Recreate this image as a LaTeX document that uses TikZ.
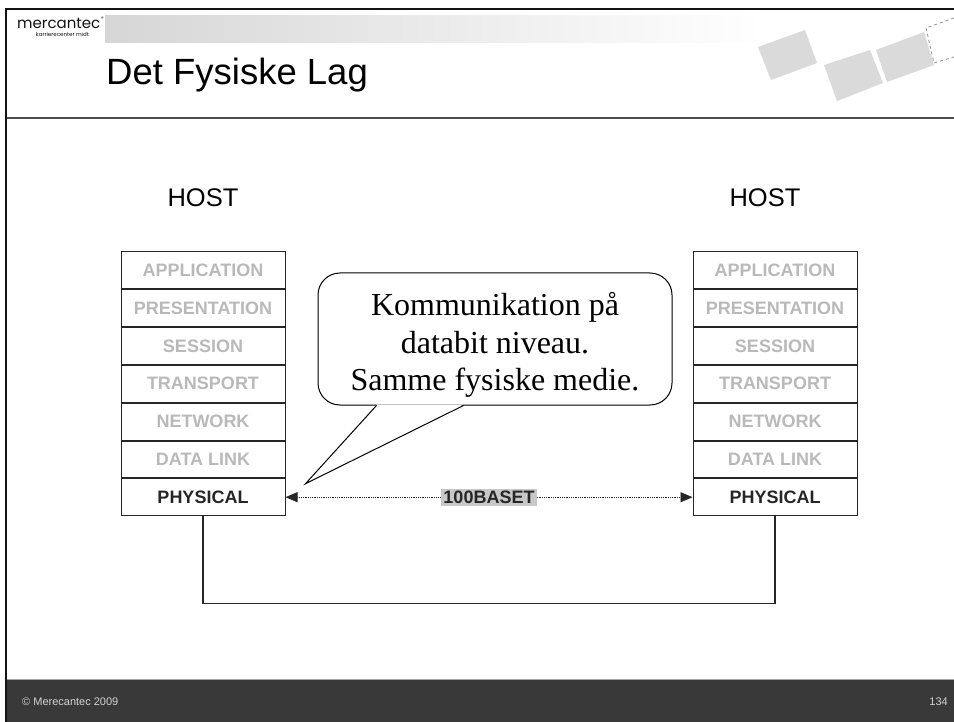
\documentclass[tikz,border=0pt]{standalone}
\usepackage{fontspec}
\setmainfont{Liberation Sans}
\newfontfamily\bubblefont{Liberation Serif}
\newfontfamily\logofont{Poppins}
\usepackage{tikz}
\usetikzlibrary{arrows.meta, positioning, calc}
\definecolor{cframe}{RGB}{20,20,20}
\definecolor{cdim}{RGB}{185,185,185}
\definecolor{cdark}{RGB}{38,38,38}
\definecolor{cband}{RGB}{57,57,57}
\definecolor{ctag}{RGB}{200,200,200}
\definecolor{ctile}{RGB}{218,218,218}

\begin{document}
\begin{tikzpicture}[
  x=1pt, y=-1pt,
  layer/.style  = {rectangle, draw=cdark, line width=1pt, minimum width=164pt,
                   minimum height=36.8pt, inner sep=0pt,
                   font=\fontsize{18}{20}\selectfont\bfseries},
  dim/.style    = {text=cdim},
  host/.style   = {inner sep=0pt, font=\fontsize{25.5}{28}\selectfont},
  link/.style   = {cdark, line width=1.2pt},
  tile/.style   = {fill=ctile},
  foot/.style   = {inner sep=0pt, text=gray!35, font=\fontsize{11}{13}\selectfont},
]
\useasboundingbox (0,0) rectangle (954,722);
\fill[white] (0,0) rectangle (954,722);

% header: banner, logo, title, rule
\shade[left color=gray!32, right color=white] (105,16) rectangle (765,43);
\node[inner sep=0pt, anchor=base west, text=gray!15!black,
      font=\logofont\fontsize{15}{15}\selectfont] (logo) at (17,29) {mercantec};
\node[inner sep=0pt, anchor=south west, font=\logofont\fontsize{5}{5}\selectfont]
      (logoreg) at ($(logo.north east)+(0.5,2)$) {®};
\node[inner sep=0pt, anchor=base east, text=gray!15!black,
      font=\logofont\fontsize{5.5}{6}\selectfont] (logosub) at (89,37) {karrierecenter midt};
\node[inner sep=0pt, anchor=base west, font=\fontsize{36.5}{40}\selectfont] (title) at (106,85) {Det Fysiske Lag};
\draw[gray!60!black, line width=1.2pt] (6,118) -- (954,118);

% decorative tiles top right
\fill[tile] (758,47) -- (805,30) -- (817,63) -- (771,80) -- cycle;
\fill[tile] (824,65) -- (870,50) -- (883,83) -- (837,101) -- cycle;
\fill[tile] (876,50) -- (924,32) -- (934,65) -- (887,82) -- cycle;
\draw[gray!80, dashed, line width=0.9pt] (954,18) -- (926,28) -- (934,63) -- (954,57);

% the two protocol stacks
\foreach \s/\cx/\hx in {l/203/203, r/775/765} {
  \node[host, anchor=base] (host\s) at (\hx,207) {HOST};
  \node[layer, dim] (app\s) at (\cx,270.4) {APPLICATION};
  \node[layer, dim, below=0pt of app\s]   (pres\s)  {PRESENTATION};
  \node[layer, dim, below=0pt of pres\s]  (sess\s)  {SESSION};
  \node[layer, dim, below=0pt of sess\s]  (trans\s) {TRANSPORT};
  \node[layer, dim, below=0pt of trans\s] (net\s)   {NETWORK};
  \node[layer, dim, below=0pt of net\s]   (dlink\s) {DATA LINK};
  \node[layer, text=cdark, below=0pt of dlink\s] (phys\s) {PHYSICAL};
}

% medium between the physical layers
\draw[cdark, densely dotted, line width=0.8pt,
      {Triangle[length=12pt,width=10pt]}-{Triangle[length=12pt,width=10pt]}]
  (physl.east) -- node[fill=ctag, text=cdark, inner sep=2pt,
                       font=\fontsize{18}{20}\selectfont\bfseries] (speed) {100BASET} (physr.west);
\draw[link] (physl.south) -- ++(0,87) -| (physr.south);

% speech bubble
\node[draw, line width=1pt, fill=white, rounded corners=22pt,
      minimum width=354pt, minimum height=132pt] (bubble) at (495,339) {};
\node[align=center, inner sep=0pt, font=\bubblefont\fontsize{32}{37.5}\selectfont]
  (bubbletext) at ($(bubble.center)+(0,6)$)
  {Kommunikation på\\databit niveau.\\ Samme fysiske medie.};
\coordinate (tip)   at ($(physl.north east)+(20,5.4)$);
\coordinate (baseA) at ($(bubble.south west)+(59,0)$);
\coordinate (baseB) at ($(bubble.south west)+(146,0)$);
\fill[white] ($(baseA)+(0.5,-0.8)$) -- ($(baseB)+(-0.5,-0.8)$) -- (tip) -- cycle;
\draw[line width=1pt] (baseA) -- (tip) -- (baseB);

% footer band
\fill[cband] (6,680) rectangle (954,722);
\draw[gray!70, line width=1pt] (6,679.5) -- (954,679.5);
\node[foot, anchor=west] (copy) at (22,702) {© Merecantec 2009};
\node[foot, anchor=east] (page) at (948,702) {134};

% slide frame
\draw[cframe, line width=2.5pt] (6,722) -- (6,9) -- (954,9);
\end{tikzpicture}
\end{document}
